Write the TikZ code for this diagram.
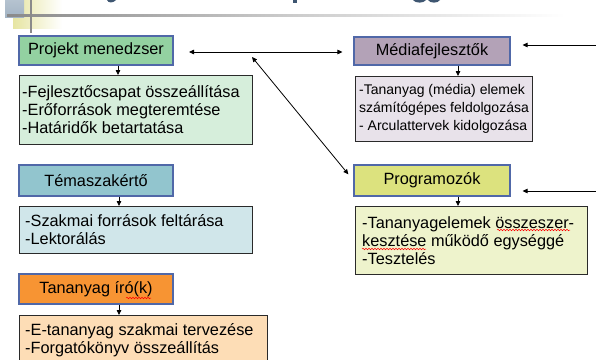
\documentclass[tikz,border=0pt]{standalone}
\usepackage{fontspec}
\setmainfont{Liberation Sans}
\usetikzlibrary{arrows.meta,decorations.pathmorphing}
\definecolor{hgreen}{HTML}{93D1A1}
\definecolor{dgreen}{HTML}{D6EEDB}
\definecolor{hmauve}{HTML}{B3A2B7}
\definecolor{dmauve}{HTML}{E8E2EA}
\definecolor{hteal}{HTML}{92C5CE}
\definecolor{dteal}{HTML}{D0E6EA}
\definecolor{horange}{HTML}{F79433}
\definecolor{dorange}{HTML}{FDDDB6}
\definecolor{hyellow}{HTML}{DCE27E}
\definecolor{dyellow}{HTML}{EEF3CC}
\definecolor{hborder}{HTML}{5068A8}
\definecolor{dborder}{HTML}{2A2A2A}
\definecolor{titleblue}{HTML}{3E5671}
\definecolor{decoblue}{HTML}{A3B4C4}
\definecolor{decoyellow}{HTML}{E6E5A2}
\definecolor{decogray}{HTML}{8A8A8A}
\tikzset{
  hdr/.style={draw=hborder, line width=1.1pt, inner sep=0pt,
    font=\fontsize{16.3}{18}\selectfont},
  detbox/.style={draw=dborder, line width=0.9pt, inner sep=0pt, anchor=north west},
  dettext/.style={anchor=west, align=left, inner sep=0pt,
    font=\fontsize{16.3}{18}\selectfont},
  arr/.style={line width=0.8pt, -{Triangle[length=5pt,width=4.5pt]}},
  darr/.style={line width=0.8pt, {Triangle[length=5pt,width=4.5pt]}-{Triangle[length=5pt,width=4.5pt]}},
  squiggle/.style={red, line width=0.5pt, decorate,
    decoration={snake, segment length=3pt, amplitude=0.8pt}}
}
\begin{document}
\begin{tikzpicture}[x=1pt,y=-1pt]
\useasboundingbox (0,0) rectangle (596,359);
\clip (0,0) rectangle (596,359);
\fill[white] (0,0) rectangle (596,359);
% decorations top-left
\shade[left color=decoyellow, right color=white] (13,0) rectangle (62,28);
\shade[top color=decoblue!80!white, bottom color=decoblue] (5,0) rectangle (24,17);
\shade[left color=decogray, right color=white, middle color=decogray!45!white] (7,14.2) rectangle (565,16.4);
\fill[decogray] (30,0) rectangle (32,33);
% title fragments
\fill[titleblue] (107,0) .. controls (108,3) and (113,3.5) .. (116,0) -- cycle;
\fill[titleblue] (293,0) rectangle (297,3);
\fill[titleblue] (413,0) .. controls (415,3.5) and (424,3.5) .. (426,0) -- cycle;
\fill[titleblue] (428,0) .. controls (430,3.5) and (438,3.5) .. (440,0) -- cycle;

% headers
\node[hdr, fill=hgreen, minimum width=154pt, minimum height=29pt] (h1) at (96,50.5) {Projekt menedzser};
\node[hdr, fill=hmauve, minimum width=156pt, minimum height=28pt] (h2) at (432,51) {Médiafejlesztők};
\node[hdr, fill=hteal, minimum width=154pt, minimum height=31pt] (h3) at (96,180.5) {Témaszakértő};
\node[hdr, fill=horange, minimum width=154pt, minimum height=30pt] (h4) at (96,289) {Tananyag író(k)};
\node[hdr, fill=hyellow, minimum width=156pt, minimum height=31pt] (h5) at (432,180.5) {Programozók};

% detail boxes
\node[detbox, fill=dgreen, minimum width=233pt, minimum height=69pt] (d1) at (19,75) {};
\node[dettext] (d1t) at ([xshift=3pt]d1.west) {-Fejlesztőcsapat összeállítása\\-Erőforrások megteremtése\\-Határidők betartatása};
\node[detbox, fill=dmauve, minimum width=177pt, minimum height=65pt] (d2) at (355,76) {};
\node[dettext, font=\fontsize{14}{18}\selectfont] (d2t) at ([xshift=4pt]d2.west) {-Tananyag (média) elemek\\számítógépes feldolgozása\\- Arculattervek kidolgozása};
\node[detbox, fill=dteal, minimum width=233pt, minimum height=47pt] (d3) at (19,206) {};
\node[dettext] (d3t) at ([xshift=6pt]d3.west) {-Szakmai források feltárása\\-Lektorálás};
\node[detbox, fill=dorange, minimum width=248pt, minimum height=49pt] (d4) at (19,315) {};
\node[dettext] (d4t) at ([xshift=6pt]d4.west) {-E-tananyag szakmai tervezése\\-Forgatókönyv összeállítás};
\node[detbox, fill=dyellow, minimum width=232pt, minimum height=68pt] (d5) at (355,206) {};
\node[dettext] (d5t) at ([xshift=7pt]d5.west) {-Tananyagelemek összeszer-\\kesztése működő egységgé\\-Tesztelés};

% spell-check squiggles
\draw[squiggle] (497,230) -- (570,230);
\draw[squiggle] (362,249) -- (426,249);
\draw[squiggle] (126,298) -- (151,298);

% header -> detail arrows
\draw[arr] ([xshift=22pt]h1.south) -- ([xshift=22pt]h1.south |- d1.north);
\draw[arr] ([xshift=26pt]h2.south) -- ([xshift=26pt]h2.south |- d2.north);
\draw[arr] ([xshift=23pt]h3.south) -- ([xshift=23pt]h3.south |- d3.north);
\draw[arr] ([xshift=23pt]h4.south) -- ([xshift=23pt]h4.south |- d4.north);
\draw[arr] ([xshift=26pt]h5.south) -- ([xshift=26pt]h5.south |- d5.north);

% connections
\coordinate (hl) at (173,52);
\draw[darr, shorten <=16pt, shorten >=11pt] (hl) -- (hl -| h2.west);
\coordinate (ds) at (252,57);
\draw[darr, shorten >=8pt] (ds) -- (h5.west);
\coordinate (r1) at (597,45);
\draw[arr, shorten >=12pt] (r1) -- (r1 -| h2.east);
\coordinate (r2) at (597,191);
\draw[arr, shorten >=12pt] (r2) -- (r2 -| h5.east);
\end{tikzpicture}
\end{document}
